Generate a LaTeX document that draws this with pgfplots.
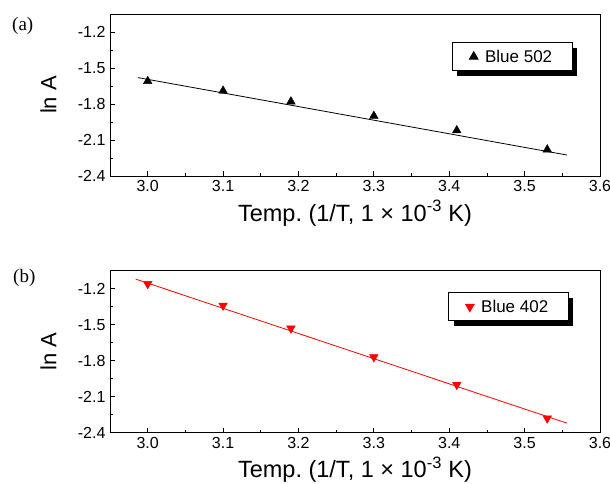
\documentclass[border=0pt]{standalone}
\usepackage{fontspec}
\setmainfont{Liberation Sans}
\newfontfamily\seriffont{Liberation Serif}
\usepackage{pgfplots}
\pgfplotsset{compat=1.18}
\usetikzlibrary{shadows}
\frenchspacing

\pgfplotsset{
  panel/.style={
    scale only axis, width=490pt, height=162pt,
    xmin=2.95, xmax=3.6, ymin=-2.4, ymax=-1.05,
    clip=false,
    xtick={3.0,3.1,3.2,3.3,3.4,3.5,3.6},
    ytick={-2.4,-2.1,-1.8,-1.5,-1.2},
    minor x tick num=1, minor y tick num=1,
    tick align=inside, xtick pos=bottom, ytick pos=left,
    major tick length=5pt, minor tick length=3pt,
    axis line style={line width=0.8pt},
    every tick/.style={black, line width=0.8pt},
    /pgf/number format/.cd, fixed, fixed zerofill, precision=1, assume math mode=true, /pgfplots/.cd,
    tick label style={font=\fontsize{16}{16}\selectfont},
    xticklabel style={yshift=-1pt},
    yticklabel style={xshift=-1pt},
    xlabel={Temp. (1/T, 1 × 10\textsuperscript{-3} K)},
    ylabel={ln A},
    label style={font=\fontsize{22}{22}\selectfont},
    xlabel style={at={(rel axis cs:0.5,0)}, anchor=base, yshift=-45pt,
      font=\fontsize{23.5}{23.5}\selectfont},
    ylabel style={at={(rel axis cs:0,0.5)}, anchor=south, yshift=50pt},
    legend style={anchor=north west,
      font=\fontsize{17}{17}\selectfont, draw=black, line width=0.8pt,
      fill=white, inner xsep=17pt, inner ysep=4pt,
      nodes={inner sep=3pt},
      drop shadow={shadow xshift=5pt, shadow yshift=-5pt, fill=black, opacity=1}},
    legend image code/.code={
      \draw[#1] plot coordinates {(0pt,0pt)};
    },
    legend cell align=left,
  }
}

\begin{document}
\begin{tikzpicture}
\useasboundingbox (-110pt,-50.3pt) rectangle (500pt,432.7pt);

% panel (a)
\begin{axis}[panel, at={(0pt,256.7pt)}, anchor=south west,
  legend style={at={(rel axis cs:0.698,0.825)}}]
\addplot[black, line width=0.8pt, forget plot] coordinates {(2.987,-1.58) (3.556,-2.225)};
\addplot[only marks, mark=triangle*, mark size=5pt, black] coordinates {
  (3.00,-1.61) (3.10,-1.69) (3.19,-1.78) (3.30,-1.90) (3.41,-2.02) (3.53,-2.18)
};
\addlegendentry{\kern4pt Blue 502}
\node[font=\seriffont\fontsize{19}{19}\selectfont, anchor=base west, inner sep=0pt]
  at ([xshift=-98pt,yshift=-17pt]rel axis cs:0,1) {(a)};
\end{axis}

% panel (b)
\begin{axis}[panel, at={(0pt,0pt)}, anchor=south west,
  legend style={at={(rel axis cs:0.690,0.866)}}]
\addplot[red, line width=0.8pt, forget plot] coordinates {(2.984,-1.12) (3.556,-2.32)};
\addplot[only marks, mark=triangle*, mark options={rotate=180}, mark size=5pt, red] coordinates {
  (3.00,-1.16) (3.10,-1.34) (3.19,-1.53) (3.30,-1.77) (3.41,-2.00) (3.53,-2.28)
};
\addlegendentry{\kern4pt Blue 402}
\node[font=\seriffont\fontsize{19}{19}\selectfont, anchor=base west, inner sep=0pt]
  at ([xshift=-97pt,yshift=-12pt]rel axis cs:0,1) {(b)};
\end{axis}
\end{tikzpicture}
\end{document}
